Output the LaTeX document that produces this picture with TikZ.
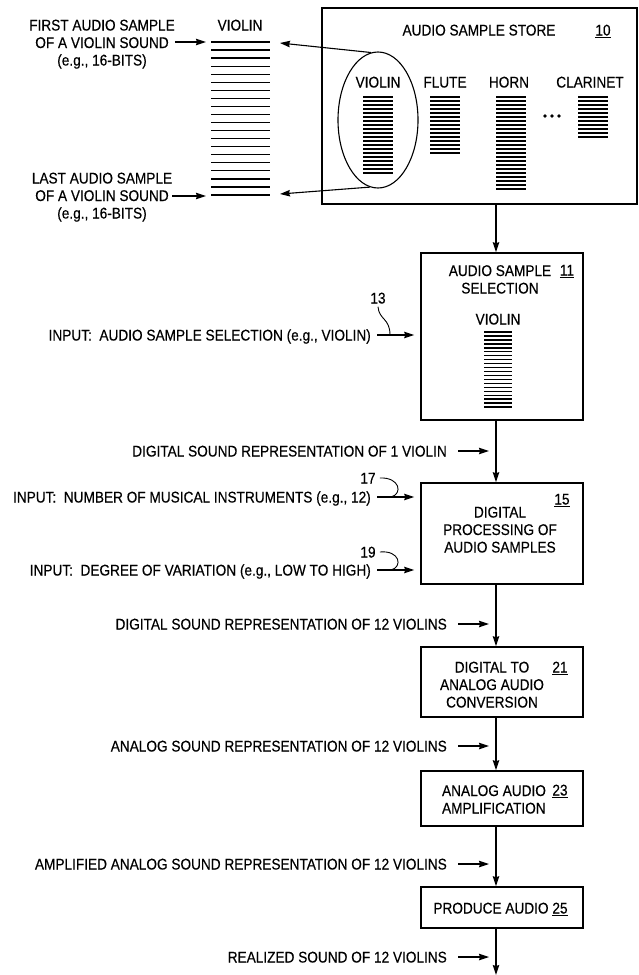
\documentclass[tikz,border=0pt]{standalone}
\usepackage{fontspec}
\setmainfont{Liberation Sans}[FakeStretch=0.88,FakeBold=0.4]
\usetikzlibrary{arrows.meta,shapes.geometric,positioning}
\begin{document}
\begin{tikzpicture}[x=1pt,y=-1pt,>={Stealth[length=10pt,width=6.5pt,inset=1pt]},
  font=\fontsize{15.5}{17.5}\selectfont,
  box/.style={draw,line width=1.6pt,inner sep=0pt,minimum width=162},
  txt/.style={inner sep=0pt,align=center,text height=11pt,text depth=0pt},
  flow/.style={->,line width=1.1pt},
  lead/.style={line width=0.9pt},
  bar/.style={line width=1.6pt}]
\useasboundingbox (0,0) rectangle (639,975);
\coordinate (spine) at (496,0);
% left: one sample stack
\node[txt] (vhead) at (240,25) {VIOLIN};
\foreach \i in {0,...,19}
  \draw[line width=1.3pt] (211,42+8.05*\i) -- (270,42+8.05*\i);
\node[txt] (first) at (102,60) {FIRST AUDIO SAMPLE\\OF A VIOLIN SOUND\\(e.g., 16-BITS)};
\node[txt] (last) at (102,213) {LAST AUDIO SAMPLE\\OF A VIOLIN SOUND\\(e.g., 16-BITS)};
\coordinate (firstend) at (206,42);
\coordinate (lastend) at (206,196);
\draw[flow] (first.east |- firstend) -- (firstend);
\draw[flow] (last.east |- lastend) -- (lastend);
% store
\node[box,minimum width=315,minimum height=196] (store) at (479.5,106) {};
\node[txt] (storet) at (479,30) {AUDIO SAMPLE STORE};
\node[txt] (n10) at (603,30) {\underline{10}};
\node[txt] (iviolin) at (378,82) {VIOLIN};
\node[txt] (iflute) at (445,82) {FLUTE};
\node[txt] (ihorn) at (509,82) {HORN};
\node[txt] (iclar) at (590,82) {CLARINET};
\foreach \x/\n in {363/19,430/14,496/23,578/10}
  \foreach \i in {0,...,\n}
    \draw[bar] (\x,97+4*\i) -- (\x+30,97+4*\i);
\foreach \x in {545,552,559} \fill (\x,116) circle (1.8);
\node[draw,ellipse,line width=1.1pt,minimum width=80,minimum height=136,inner sep=0pt] (ell) at (378,120) {};
\coordinate (vtop) at (280,43);
\coordinate (vbot) at (280,194);
\draw[flow] (ell.96) -- (vtop);
\draw[flow] (ell.263) -- (vbot);
% selection
\node[box,minimum height=167] (sel) at (502,336.5) {};
\node[txt] (selt) at (500,288) {AUDIO SAMPLE\\SELECTION};
\node[txt] (n11) at (567,270) {\underline{11}};
\node[txt] (sviolin) at (498,319) {VIOLIN};
\foreach \i in {0,...,19}
  \draw[line width=1.4pt] (484,332+3.95*\i) -- (512,332+3.95*\i);
\draw[flow] (store.south -| spine) -- (sel.north -| spine);
\node[txt,anchor=east] (in13) at (371,335) {INPUT:\ \ AUDIO SAMPLE SELECTION (e.g., VIOLIN)};
\draw[flow] ([xshift=6pt]in13.east) -- ([xshift=-6pt]in13.east -| sel.west);
\node[txt] (n13) at (378,298) {13};
\coordinate (k13) at (390,335);
\draw[lead] ([yshift=-3pt]n13.south) .. controls (379,320) and (390,318) .. (k13);
% processing
\node[box,minimum height=101] (p15) at (502,533.5) {};
\node[txt] (p15t) at (500,547) {DIGITAL\\PROCESSING OF\\AUDIO SAMPLES};
\node[txt] (n15) at (562,499) {\underline{15}};
\node[txt,anchor=east] (rep1) at (447,451) {DIGITAL SOUND REPRESENTATION OF 1 VIOLIN};
\draw[flow] ([xshift=11pt]rep1.east) -- ([xshift=-7pt]rep1.east -| spine);
\draw[flow] (sel.south -| spine) -- (p15.north -| spine);
\node[txt,anchor=east] (in17) at (371,497) {INPUT:\ \ NUMBER OF MUSICAL INSTRUMENTS (e.g., 12)};
\node[txt,anchor=east] (in19) at (371,570) {INPUT:\ \ DEGREE OF VARIATION (e.g., LOW TO HIGH)};
\draw[flow] ([xshift=6pt]in17.east) -- ([xshift=-6pt]in17.east -| p15.west);
\draw[flow] ([xshift=6pt]in19.east) -- ([xshift=-6pt]in19.east -| p15.west);
\node[txt] (n17) at (368,478) {17};
\node[txt] (n19) at (368,552) {19};
\coordinate (k17) at (391,497);
\coordinate (k19) at (391,570);
\draw[lead] ([xshift=4pt]n17.east) .. controls (400,477) and (403,494) .. (k17);
\draw[lead] ([xshift=4pt]n19.east) .. controls (400,550) and (403,567) .. (k19);
% conversion
\node[box,minimum height=70] (p21) at (502,682) {};
\node[txt] (p21t) at (492,702) {DIGITAL TO\\ANALOG AUDIO\\CONVERSION};
\node[txt] (n21) at (560,667) {\underline{21}};
\node[txt,anchor=east] (rep2) at (447,624) {DIGITAL SOUND REPRESENTATION OF 12 VIOLINS};
\draw[flow] ([xshift=11pt]rep2.east) -- ([xshift=-7pt]rep2.east -| spine);
\draw[flow] (p15.south -| spine) -- (p21.north -| spine);
% amplification
\node[box,minimum height=55] (p23) at (502,798.5) {};
\node[txt,align=left] (p23t) at (494,808) {ANALOG AUDIO\\AMPLIFICATION};
\node[txt] (n23) at (560,790) {\underline{23}};
\node[txt,anchor=east] (rep3) at (447,746) {ANALOG SOUND REPRESENTATION OF 12 VIOLINS};
\draw[flow] ([xshift=11pt]rep3.east) -- ([xshift=-7pt]rep3.east -| spine);
\draw[flow] (p21.south -| spine) -- (p23.north -| spine);
% produce
\node[box,minimum height=41] (p25) at (502,907.5) {};
\node[txt] (p25t) at (491,908) {PRODUCE AUDIO};
\node[txt] (n25) at (560,908) {\underline{25}};
\node[txt,anchor=east] (rep4) at (447,864) {AMPLIFIED ANALOG SOUND REPRESENTATION OF 12 VIOLINS};
\draw[flow] ([xshift=11pt]rep4.east) -- ([xshift=-7pt]rep4.east -| spine);
\draw[flow] (p23.south -| spine) -- (p25.north -| spine);
\node[txt,anchor=east] (rep5) at (447,957) {REALIZED SOUND OF 12 VIOLINS};
\draw[flow] ([xshift=11pt]rep5.east) -- ([xshift=-7pt]rep5.east -| spine);
\coordinate (out) at (496,975);
\draw[flow] (p25.south -| spine) -- (out);
\end{tikzpicture}
\end{document}
